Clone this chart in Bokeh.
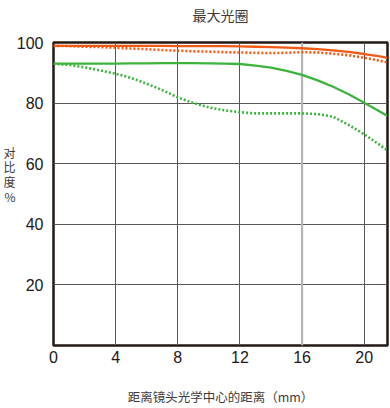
from bokeh.plotting import figure
from bokeh.models import Span, FixedTicker, LinearAxis, Range1d
from bokeh.embed import file_html
from bokeh.resources import INLINE

# ---------------- data ----------------
title_text = "最大光圈"
x_label_text = "距离镜头光学中心的距离（mm）"
y_label_text = "对\n比\n度\n%"

x_ticks = [0, 4, 8, 12, 16, 20]
y_ticks = [20, 40, 60, 80, 100]
highlight_x = [16]

img_height = [0, 1, 2, 3, 4, 5, 6, 7, 8, 9, 10, 11, 12, 13, 14, 15, 16, 17, 18, 19, 20, 21, 21.5]

orange_solid = [98.9, 98.9, 98.9, 98.9, 98.9, 98.9, 98.9, 98.9, 98.8, 98.8, 98.8, 98.8, 98.7,
                98.6, 98.5, 98.3, 98.1, 97.8, 97.4, 96.9, 96.2, 95.4, 94.9]
orange_dotted = [98.9, 98.8, 98.6, 98.5, 98.3, 98.0, 97.8, 97.5, 97.3, 97.1, 97.0, 96.8, 96.7,
                 96.6, 96.5, 96.6, 96.8, 96.7, 96.3, 95.8, 95.0, 94.0, 93.4]
green_solid = [93.0, 93.0, 93.0, 93.0, 93.0, 93.1, 93.1, 93.2, 93.2, 93.2, 93.1, 93.0, 92.9,
               92.4, 91.7, 90.6, 89.3, 87.5, 85.4, 82.9, 80.1, 77.2, 75.7]
green_dotted = [93.0, 92.6, 91.8, 90.8, 89.7, 88.3, 86.4, 84.3, 81.9, 80.0, 78.6, 77.6, 77.0,
                76.6, 76.6, 76.6, 76.6, 76.4, 75.5, 72.8, 69.7, 66.2, 64.4]

ORANGE = "#f05a14"
GREEN = "#3cb43c"
DARK = "#231815"
TEXT = "#3e3a39"
CJK = "Noto Sans CJK SC"
LATIN = "Liberation Sans"

# ---------------- figure ----------------
p = figure(width=390, height=408, x_range=(0, 21.5), y_range=(0, 100),
           output_backend="svg", toolbar_location=None, title_location=None,
           min_border_left=50, min_border_right=3, min_border_top=42, min_border_bottom=58)
p.title.text = title_text

p.background_fill_color = "white"
p.border_fill_color = "white"
p.outline_line_color = DARK
p.outline_line_width = 2.5

# axes
for ax in (p.xaxis[0], p.yaxis[0]):
    ax.axis_line_color = None
    ax.major_tick_line_color = None
    ax.minor_tick_line_color = None
    ax.major_tick_out = 0
    ax.major_tick_in = 0
    ax.major_label_text_font = LATIN
    ax.major_label_text_font_size = "16px"
    ax.major_label_text_color = DARK

p.xaxis.ticker = FixedTicker(ticks=x_ticks)
p.yaxis.ticker = FixedTicker(ticks=y_ticks)
p.xaxis.major_label_standoff = 5
p.yaxis.major_label_standoff = 10

p.xaxis.axis_label = x_label_text
p.xaxis.axis_label_text_font = CJK
p.xaxis.axis_label_text_font_size = "12.5px"
p.xaxis.axis_label_text_font_style = "normal"
p.xaxis.axis_label_text_color = TEXT
p.xaxis.axis_label_text_line_height = 0.8
p.xaxis.axis_label_standoff = 21

# chart title, drawn as a label-only axis above the frame (centred on the frame)
title_at = 10.75
p.extra_x_ranges = {"ttl": Range1d(0, 21.5)}
title_axis = LinearAxis(x_range_name="ttl", ticker=FixedTicker(ticks=[title_at]),
                        major_label_overrides={title_at: title_text},
                        axis_line_color=None, major_tick_line_color=None,
                        minor_tick_line_color=None, major_tick_out=0, major_tick_in=0,
                        major_label_standoff=18,
                        major_label_text_font=CJK, major_label_text_font_size="14px",
                        major_label_text_color=TEXT)
p.add_layout(title_axis, "above")

# stacked vertical y label, drawn as an outer left axis with one label
y_label_at = 56.5
p.extra_y_ranges = {"ylab": Range1d(0, 100)}
lab_axis = LinearAxis(y_range_name="ylab", ticker=FixedTicker(ticks=[y_label_at]),
                      major_label_overrides={y_label_at: y_label_text},
                      axis_line_color=None, major_tick_line_color=None,
                      minor_tick_line_color=None, major_tick_out=0, major_tick_in=0,
                      major_label_orientation="horizontal", major_label_standoff=-2,
                      major_label_text_font=CJK, major_label_text_font_size="12px",
                      major_label_text_line_height=0.87,
                      major_label_text_color=TEXT)
p.add_layout(lab_axis, "left")

# grid
p.xgrid.ticker = FixedTicker(ticks=x_ticks[1:])
p.ygrid.ticker = FixedTicker(ticks=y_ticks[:-1])
p.grid.grid_line_color = "#595757"
p.grid.grid_line_width = 1
p.grid.grid_line_alpha = 1

for hx in highlight_x:
    s = Span(location=hx, dimension="height", line_color="#b5b5b6", line_width=2.2)
    s.level = "underlay"
    p.add_layout(s)

# curves
p.line(img_height, orange_solid, line_color=ORANGE, line_width=2.3)
p.line(img_height, orange_dotted, line_color=ORANGE, line_width=2.6, line_dash="2 2")
p.line(img_height, green_solid, line_color=GREEN, line_width=2.3)
p.line(img_height, green_dotted, line_color=GREEN, line_width=2.6, line_dash="2 2")

open("out.html", "w").write(file_html(p, INLINE))
